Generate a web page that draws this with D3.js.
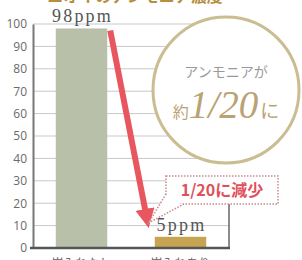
<!DOCTYPE html>
<html>
<head>
<meta charset="utf-8">
<script src="https://cdn.jsdelivr.net/npm/d3@7"></script>
<style>
  body { margin: 0; background: #fff; }
  svg { display: block; }
</style>
</head>
<body>
<svg id="chart"></svg>
<script>
// data
var categories = ["炭入れなし", "炭入れあり"];
var values = [98, 5];
var valueLabels = ["98ppm", "5ppm"];
var yTicks = [0, 10, 20, 30, 40, 50, 60, 70, 80, 90, 100];
var barColors = ["#b9c0aa", "#c6a452"];

var width = 302, height = 260;
var margin = {top: 24, right: 73, bottom: 12, left: 33};

var svg = d3.select("#chart")
  .attr("width", width)
  .attr("height", height);

var x = d3.scaleBand()
  .domain(categories)
  .range([margin.left, width - margin.right])
  .paddingInner(0.48)
  .paddingOuter(0.23);

var y = d3.scaleLinear()
  .domain([0, 100])
  .range([height - margin.bottom, margin.top]);

// title, mostly cut off at the top edge
svg.append("text")
  .attr("x", 135)
  .attr("y", 2)
  .attr("text-anchor", "middle")
  .attr("fill", "#b58f3e")
  .attr("font-family", "Noto Sans CJK JP")
  .attr("font-weight", "bold")
  .attr("font-size", 16)
  .text("ニオイのアンモニア濃度");

// grid lines
svg.append("g")
  .selectAll("line")
  .data(yTicks.filter(d => d > 0))
  .join("line")
    .attr("x1", margin.left)
    .attr("x2", width - margin.right)
    .attr("y1", d => y(d))
    .attr("y2", d => y(d))
    .attr("stroke", "#c9c9c9")
    .attr("stroke-width", 1);

// right border of plot
svg.append("line")
  .attr("x1", width - margin.right)
  .attr("x2", width - margin.right)
  .attr("y1", y(30))
  .attr("y2", y(0))
  .attr("stroke", "#666")
  .attr("stroke-width", 1.5);

// y axis
var yAxis = svg.append("g")
  .attr("transform", "translate(" + margin.left + ",0)")
  .call(d3.axisLeft(y).tickValues(yTicks).tickSize(0).tickPadding(6));
yAxis.select(".domain").attr("stroke", "#777").attr("stroke-width", 2);
yAxis.selectAll("text")
  .attr("fill", "#6a6a6a")
  .attr("font-family", "Open Sans, sans-serif")
  .attr("font-size", 12);

// bars
svg.append("g")
  .selectAll("rect")
  .data(values)
  .join("rect")
    .attr("x", (d, i) => x(categories[i]))
    .attr("y", d => y(d))
    .attr("width", x.bandwidth())
    .attr("height", d => y(0) - y(d))
    .attr("fill", (d, i) => barColors[i]);

// baseline
svg.append("line")
  .attr("x1", margin.left - 3)
  .attr("x2", width - margin.right + 1)
  .attr("y1", y(0))
  .attr("y2", y(0))
  .attr("stroke", "#555")
  .attr("stroke-width", 2.5);

// value labels
svg.append("g")
  .selectAll("text")
  .data(valueLabels)
  .join("text")
    .attr("x", (d, i) => x(categories[i]) + x.bandwidth() / 2 + 1)
    .attr("y", (d, i) => y(values[i]) - 6)
    .attr("text-anchor", "middle")
    .attr("fill", "#555")
    .attr("font-family", "Liberation Serif, serif")
    .attr("font-size", 18)
    .attr("letter-spacing", 2.2)
    .text(d => d);

// category labels, cut off at the bottom edge
svg.append("g")
  .selectAll("text")
  .data(categories)
  .join("text")
    .attr("x", d => x(d) + x.bandwidth() / 2)
    .attr("y", y(0) + 20)
    .attr("text-anchor", "middle")
    .attr("fill", "#666")
    .attr("font-family", "Noto Sans CJK JP")
    .attr("font-size", 12)
    .text(d => d);

// red arrow from 98 down to 5
var defs = svg.append("defs");
defs.append("marker")
  .attr("id", "head")
  .attr("viewBox", "0 0 10 10")
  .attr("refX", 2).attr("refY", 5)
  .attr("markerWidth", 3.2).attr("markerHeight", 3.2)
  .attr("orient", "auto")
  .append("path")
    .attr("d", "M0,0L10,5L0,10Z")
    .attr("fill", "#e8565f");

var ax1 = x(categories[0]) + x.bandwidth() + 3;
var ay1 = y(values[0]) + 2;
var ax2 = x(categories[1]) - 9;
var ay2 = y(values[1]) - 24;
svg.append("line")
  .attr("x1", ax1).attr("y1", ay1)
  .attr("x2", ax2).attr("y2", ay2)
  .attr("stroke", "#e8565f")
  .attr("stroke-width", 6)
  .attr("marker-end", "url(#head)");

// circle callout
var cx = 226, cy = 90, r = 73;
svg.append("circle")
  .attr("cx", cx).attr("cy", cy).attr("r", r)
  .attr("fill", "#fff")
  .attr("stroke", "#cbbd92")
  .attr("stroke-width", 3);

svg.append("text")
  .attr("x", cx).attr("y", cy - 13)
  .attr("text-anchor", "middle")
  .attr("fill", "#9a9a9a")
  .attr("font-family", "Noto Sans CJK JP")
  .attr("font-size", 14)
  .text("アンモニアが");

var big = svg.append("text")
  .attr("x", cx).attr("y", cy + 28)
  .attr("text-anchor", "middle")
  .attr("fill", "#b9a273")
  .attr("font-family", "Liberation Serif, serif");
big.append("tspan")
  .attr("font-family", "Noto Sans CJK JP")
  .attr("font-size", 16)
  .text("約");
big.append("tspan")
  .attr("font-size", 39)
  .attr("font-style", "italic")
  .text("1/20");
big.append("tspan")
  .attr("font-family", "Noto Sans CJK JP")
  .attr("font-size", 19)
  .attr("dx", 2)
  .text("に");

// dotted box "1/20に減少"
var bx = 166, by = 176, bw = 112, bh = 28;
var boxColor = "#c98a90";
svg.append("path")
  .attr("d", "M" + (bx + 18) + "," + (by + bh) +
             "L" + (ax2 + 3) + "," + (ay2 + 10) +
             "L" + bx + "," + (by + bh - 10))
  .attr("fill", "#fff")
  .attr("stroke", boxColor)
  .attr("stroke-width", 1.5)
  .attr("stroke-dasharray", "1.5,1.5");
svg.append("rect")
  .attr("x", bx).attr("y", by)
  .attr("width", bw).attr("height", bh)
  .attr("fill", "#fff")
  .attr("stroke", boxColor)
  .attr("stroke-width", 1.5)
  .attr("stroke-dasharray", "1.5,1.5");
svg.append("path")
  .attr("d", "M" + (bx - 1) + "," + (by + bh - 9) +
             "L" + (bx - 1) + "," + (by + bh + 1) +
             "L" + (bx + 17) + "," + (by + bh + 1) + "Z")
  .attr("fill", "#fff");
svg.append("text")
  .attr("x", bx + bw / 2).attr("y", by + 20)
  .attr("text-anchor", "middle")
  .attr("fill", "#e0505a")
  .attr("font-family", "Noto Sans CJK JP")
  .attr("font-weight", "bold")
  .attr("font-size", 16)
  .text("1/20に減少");
</script>
</body>
</html>
